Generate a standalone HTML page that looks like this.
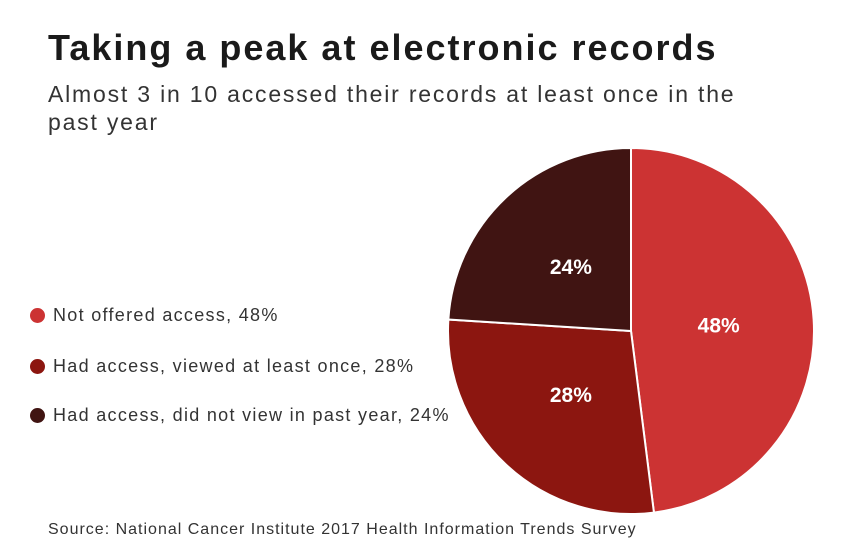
<!DOCTYPE html>
<html><head><meta charset="utf-8"><style>
body{margin:0;width:844px;height:550px;background:#fff;font-family:"Liberation Sans",sans-serif;position:relative;overflow:hidden}
.t{position:absolute;left:48px;top:27px;font-size:36px;font-weight:bold;color:#1a1a1a;letter-spacing:2px}
.s{position:absolute;left:48px;top:80px;width:700px;font-size:23px;line-height:28px;color:#333;letter-spacing:1.8px}
.lg{position:absolute;left:30px;font-size:18px;color:#333;display:flex;align-items:center;letter-spacing:1.3px}
.lg i{display:inline-block;width:15px;height:15px;border-radius:50%;margin-right:8px}
.src{position:absolute;left:48px;top:521px;font-size:16px;color:#333;letter-spacing:1px}
</style></head><body>
<div class="t">Taking a peak at electronic records</div>
<div class="s">Almost 3 in 10 accessed their records at least once in the past year</div>
<div class="lg" style="top:305px"><i style="background:#cc3333"></i>Not offered access, 48%</div>
<div class="lg" style="top:356px"><i style="background:#8c1610"></i>Had access, viewed at least once, 28%</div>
<div class="lg" style="top:405px"><i style="background:#401412"></i>Had access, did not view in past year, 24%</div>
<svg id="pie" width="844" height="550" style="position:absolute;left:0;top:0"></svg>
<div class="src">Source: National Cancer Institute 2017 Health Information Trends Survey</div>
<script>
const categories=["Not offered access","Had access, viewed at least once","Had access, did not view in past year"];
const values=[48,28,24];
const labels=["48%","28%","24%"];
const colors=["#cc3333","#8c1610","#401412"];
const svg=document.getElementById('pie');
const cx=631,cy=331,r=183,ns="http://www.w3.org/2000/svg";
const total=values.reduce((a,b)=>a+b,0);
let a0=0;
function pt(a,rr){return [cx+rr*Math.sin(a),cy-rr*Math.cos(a)];}
values.forEach((v,i)=>{
  const a1=a0+v/total*2*Math.PI;
  const p0=pt(a0,r),p1=pt(a1,r);
  const p=document.createElementNS(ns,'path');
  p.setAttribute('d',`M${cx},${cy}L${p0[0]},${p0[1]}A${r},${r} 0 ${a1-a0>Math.PI?1:0} 1 ${p1[0]},${p1[1]}Z`);
  p.setAttribute('fill',colors[i]);p.setAttribute('stroke','#fff');p.setAttribute('stroke-width','2');
  
  
  svg.appendChild(p);
  const m=(a0+a1)/2,lp=pt(m,r*0.48);
  const t=document.createElementNS(ns,'text');
  t.setAttribute('x',lp[0]);t.setAttribute('y',lp[1]+7);t.setAttribute('text-anchor','middle');
  t.setAttribute('fill','#fff');t.setAttribute('font-size','21');t.setAttribute('font-weight','bold');
  t.setAttribute('font-family','Liberation Sans, sans-serif');
  t.textContent=labels[i];
  
  
  svg.appendChild(t);
  a0=a1;
});
</script>
</body></html>
